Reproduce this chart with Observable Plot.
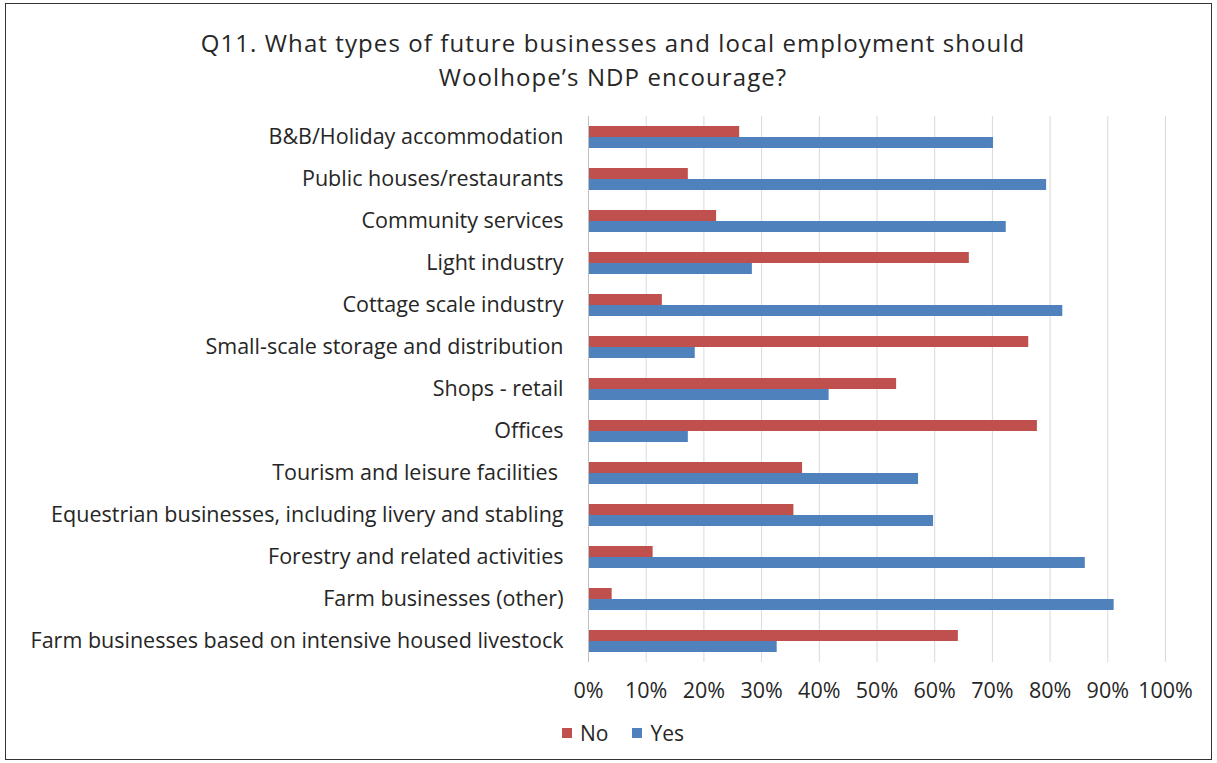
<!DOCTYPE html>
<html>
<head>
<meta charset="utf-8">
<script src="https://cdn.jsdelivr.net/npm/d3@7"></script>
<script src="https://cdn.jsdelivr.net/npm/@observablehq/plot@0.6"></script>
<style>
  html, body { margin: 0; padding: 0; background: #fff; }
  #wrap { position: relative; width: 1217px; height: 763px; overflow: hidden; background: #fff; font-family: "Open Sans", sans-serif; color: #262626; }
  #frame { position: absolute; left: 5px; top: 3px; width: 1205px; height: 755px; border: 1.5px solid #333; }
  #title { position: absolute; left: 0; top: 26px; width: 1226px; text-align: center; font-size: 24px; letter-spacing: 1.1px; line-height: 34px; color: #262626; }
  #chart { position: absolute; left: 0; top: 110px; }
  #legend { position: absolute; top: 719px; left: 562px; font-size: 21px; color: #262626; display: flex; align-items: center; }
  .sw { display: inline-block; width: 10px; height: 10px; margin-right: 8px; }
  .item { display: flex; align-items: center; margin-right: 24px; }
</style>
</head>
<body>
<div id="wrap">
  <div id="frame"></div>
  <div id="title">Q11. What types of future businesses and local employment should<br>Woolhope’s NDP encourage?</div>
  <div id="chart"></div>
  <div id="legend"></div>
</div>
<script>
const categories = [
  "B&B/Holiday accommodation",
  "Public houses/restaurants",
  "Community services",
  "Light industry",
  "Cottage scale industry",
  "Small-scale storage and distribution",
  "Shops - retail",
  "Offices",
  "Tourism and leisure facilities ",
  "Equestrian businesses, including livery and stabling",
  "Forestry and related activities",
  "Farm businesses (other)",
  "Farm businesses based on intensive housed livestock"
];
const noValues  = [0.262, 0.173, 0.222, 0.660, 0.128, 0.763, 0.534, 0.778, 0.371, 0.356, 0.112, 0.041, 0.641];
const yesValues = [0.702, 0.794, 0.724, 0.284, 0.822, 0.185, 0.417, 0.173, 0.572, 0.598, 0.861, 0.911, 0.327];
const series = ["No", "Yes"];
const seriesColors = ["#c0504d", "#4f81bd"];
const xTicks = [0, 0.1, 0.2, 0.3, 0.4, 0.5, 0.6, 0.7, 0.8, 0.9, 1.0];

const data = categories.flatMap((c, i) => [
  {category: c, series: "No", value: noValues[i]},
  {category: c, series: "Yes", value: yesValues[i]}
]);

const chart = Plot.plot({
  width: 1217,
  height: 600,
  marginLeft: 588,
  marginRight: 52,
  marginTop: 5,
  marginBottom: 48,
  style: {fontFamily: "Open Sans, sans-serif", fontSize: "21.5px", color: "#262626", background: "transparent"},
  x: {domain: [0, 1], ticks: xTicks, tickFormat: d => Math.round(d * 100) + "%", tickSize: 0, tickPadding: 20, label: null},
  fy: {domain: categories, paddingInner: 0, paddingOuter: 0, axis: "left", tickSize: 0, tickPadding: 25, label: null},
  y: {domain: series, paddingInner: 0, paddingOuter: 0.78, axis: null},
  color: {domain: series, range: seriesColors},
  marks: [
    Plot.ruleX(xTicks, {stroke: "#d9d9d9", strokeWidth: 1}),
    Plot.barX(data, {x: "value", y: "series", fy: "category", fill: "series"}),
    Plot.ruleX([0], {stroke: "#bfbfbf", strokeWidth: 1})
  ]
});
document.getElementById("chart").appendChild(chart);

const legend = document.getElementById("legend");
series.forEach((s, i) => {
  const item = document.createElement("div");
  item.className = "item";
  const sw = document.createElement("span");
  sw.className = "sw";
  sw.style.background = seriesColors[i];
  const t = document.createElement("span");
  t.textContent = s;
  item.appendChild(sw);
  item.appendChild(t);
  legend.appendChild(item);
});
</script>
</body>
</html>
